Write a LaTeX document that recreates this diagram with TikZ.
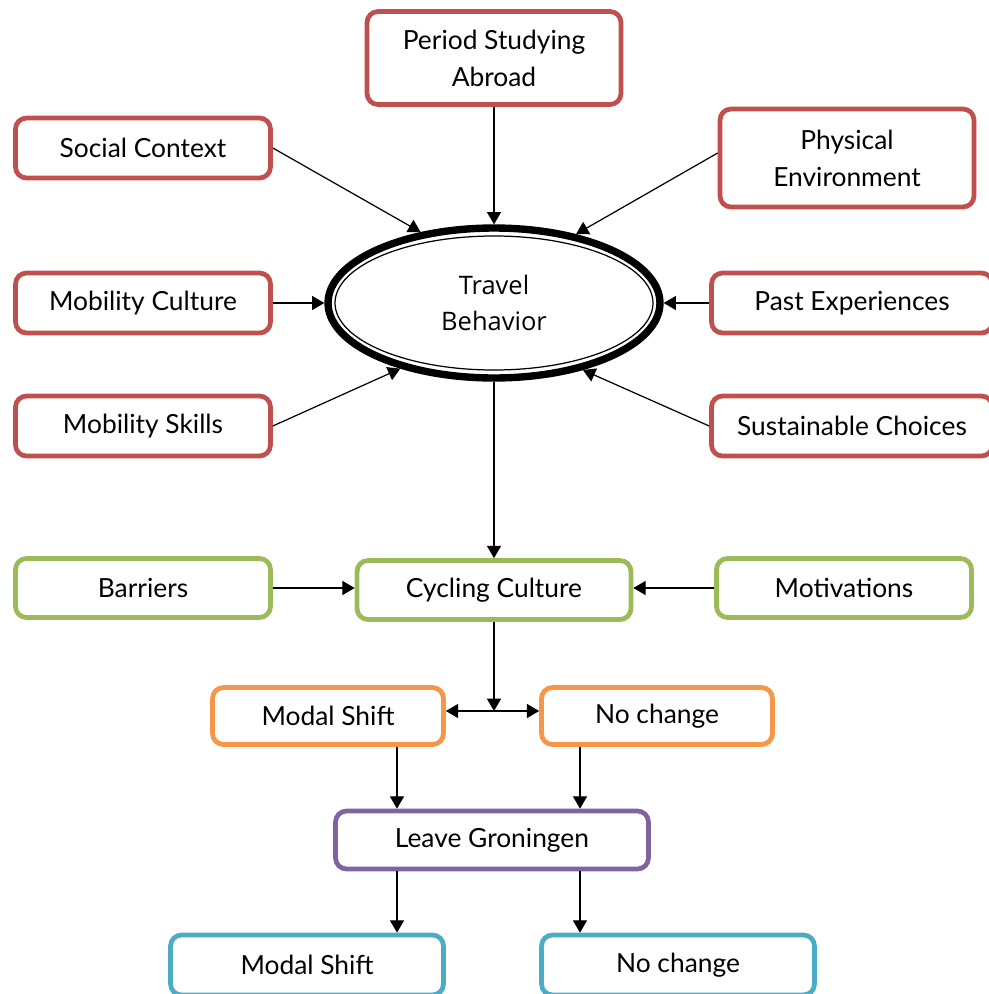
\documentclass[tikz,border=0pt]{standalone}
\usepackage{fontspec}
\setmainfont{Lato}
\newfontfamily\ovalfont{Open Sans}
\usetikzlibrary{arrows.meta}
\usetikzlibrary{shapes.geometric}
\definecolor{brick}{RGB}{192, 80, 77}
\definecolor{olive}{RGB}{155, 187, 89}
\definecolor{tangerine}{RGB}{247, 150, 70}
\definecolor{amethyst}{RGB}{128, 100, 162}
\definecolor{lagoon}{RGB}{75, 172, 198}

\begin{document}
\begin{tikzpicture}[x=0.02cm, y=-0.02cm,
    factor/.style={draw=#1, line width=2.7pt, rounded corners=0.22cm, fill=white,
                   align=center, font=\fontsize{15}{21}\selectfont, inner sep=0pt},
    arr/.style={-{Triangle[width=8pt, length=7pt]}, line width=0.7pt},
    arrboth/.style={{Triangle[width=8pt, length=7pt]}-{Triangle[width=8pt, length=7pt]}, line width=0.7pt}]
            \useasboundingbox (0,0) rectangle (988,994);
            % influencing factors
            \node[factor=brick, minimum width=5.08cm, minimum height=1.86cm] (psa) at (494, 58) {Period Studying\\Abroad};
            \node[factor=brick, minimum width=5.10cm, minimum height=1.20cm] (sc)  at (143,148) {Social Context};
            \node[factor=brick, minimum width=5.08cm, minimum height=1.96cm] (pe)  at (847,158) {Physical\\Environment};
            \node[factor=brick, minimum width=5.10cm, minimum height=1.20cm] (mc)  at (143,303) {Mobility Culture};
            \node[factor=brick, minimum width=5.62cm, minimum height=1.20cm] (pex) at (852,303) {Past Experiences};
            \node[factor=brick, minimum width=5.10cm, minimum height=1.20cm] (ms)  at (143,426) {Mobility Skills};
            \node[factor=brick, minimum width=5.62cm, minimum height=1.20cm] (sch) at (852,426) {Sustainable Choices};
            % travel behaviour
            \node[ellipse, draw, line width=4.2pt, minimum width=6.64cm, minimum height=3.00cm,
                  align=center, font=\ovalfont\fontsize{14.5}{20}\selectfont] (tb) at (494,303) {Travel\\Behavior};
            \draw[line width=0.7pt] (tb.center) ellipse (159 and 67);
            % cycling culture
            \node[factor=olive, minimum width=5.10cm, minimum height=1.18cm] (bar) at (143,588) {Barriers};
            \node[factor=olive, minimum width=5.48cm, minimum height=1.18cm] (cc)  at (494,590) {Cycling Culture};
            \node[factor=olive, minimum width=5.10cm, minimum height=1.18cm] (mot) at (844,588) {Motivations};
            % outcomes
            \node[factor=tangerine, minimum width=4.62cm, minimum height=1.14cm] (shift1) at (328,716) {Modal Shift};
            \node[factor=tangerine, minimum width=4.62cm, minimum height=1.14cm] (same1)  at (657,716) {No change};
            \node[factor=amethyst,  minimum width=6.26cm, minimum height=1.16cm] (lg)     at (492,840) {Leave Groningen};
            \node[factor=lagoon,    minimum width=5.46cm, minimum height=1.20cm] (shift2) at (307,965) {Modal Shift};
            \node[factor=lagoon,    minimum width=5.46cm, minimum height=1.20cm] (same2)  at (678,965) {No change};
            \coordinate (split) at (494,711);
            % connectors
            \draw[arr] (psa.south) -- (tb.north);
            \draw[arr] (sc.east) -- (tb.136);
            \draw[arr] ([yshift=0.1cm]pe.west) -- (tb.40);
            \draw[arr] (mc.east) -- (tb.west);
            \draw[arr] (pex.west) -- (tb.east);
            \draw[arr] (ms.east) -- (tb.215);
            \draw[arr] (sch.west) -- (tb.323);
            \draw[arr] (tb.south) -- (cc.north);
            \draw[arr] (bar.east) -- (bar.east -| cc.west);
            \draw[arr] (mot.west) -- (mot.west -| cc.east);
            \draw[arr] (cc.south) -- (split);
            \draw[arrboth] (split -| shift1.east) -- (split -| same1.west);
            \draw[arr] ([xshift=1.38cm]shift1.south) -- ([xshift=1.38cm]shift1.south |- lg.north);
            \draw[arr] ([xshift=-1.54cm]same1.south) -- ([xshift=-1.54cm]same1.south |- lg.north);
            \draw[arr] ([xshift=-1.90cm]lg.south) -- ([xshift=-1.90cm]lg.south |- shift2.north);
            \draw[arr] ([xshift=1.76cm]lg.south) -- ([xshift=1.76cm]lg.south |- same2.north);
\end{tikzpicture}
\end{document}
